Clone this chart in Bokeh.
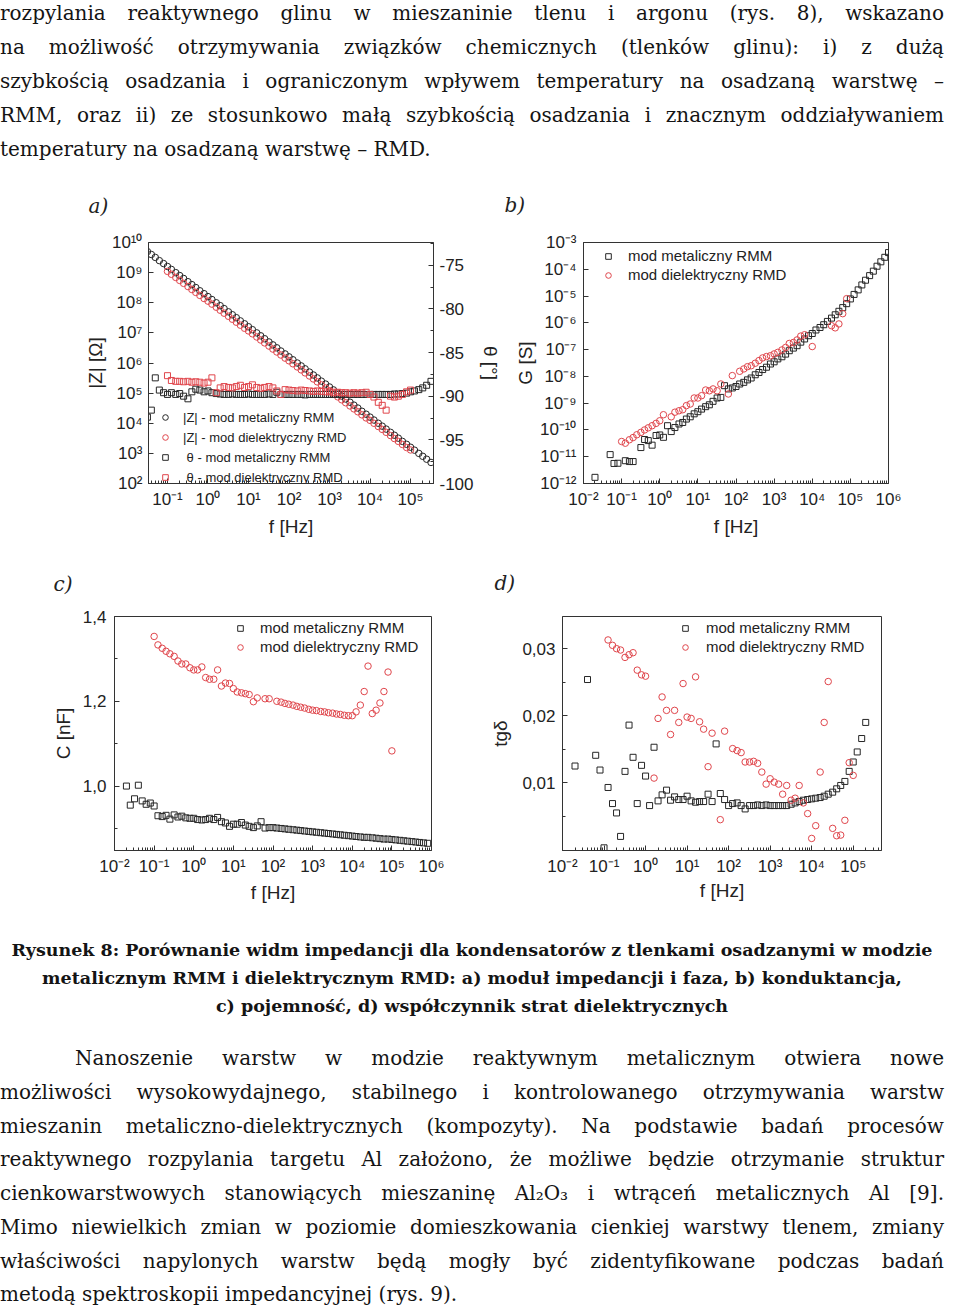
from bokeh.plotting import figure
from bokeh.models import (Range1d, LinearAxis, LinearScale, FixedTicker, CustomJSTickFormatter,
                          Div, Legend, LegendItem)
from bokeh.layouts import column, row
from bokeh.embed import file_html
from bokeh.resources import INLINE

# ---------------------------------------------------------------- data
# measurement frequency grid [Hz]
FREQ = [0.02, 0.025, 0.032, 0.04, 0.05, 0.063, 0.08,
        0.1, 0.125, 0.16, 0.2, 0.25, 0.32, 0.4, 0.5, 0.63, 0.8,
        1.0, 1.25, 1.6, 2.0, 2.5, 3.2, 4.0, 5.0, 6.3, 8.0,
        10, 12.5, 16, 20, 25, 32, 40, 50, 63, 80,
        100, 125, 160, 200, 250, 320, 400, 500, 630, 800,
        1e3, 1.25e3, 1.6e3, 2e3, 2.5e3, 3.2e3, 4e3, 5e3, 6.3e3, 8e3,
        1e4, 1.25e4, 1.6e4, 2e4, 2.5e4, 3.2e4, 4e4, 5e4, 6.3e4, 8e4,
        1e5, 1.25e5, 1.6e5, 2e5, 2.5e5, 3.2e5, 4e5, 5e5, 6.3e5, 8e5,
        1e6]

# a) |Z| and phase
ZMOD_RMM_IDX = list(range(2, 73))
ZMOD_RMM = [5.0e9, 4.0e9, 3.2e9, 2.5e9, 2.0e9,
            1.6e9, 1.28e9, 1.0e9, 8.0e8, 6.4e8, 5.0e8, 4.0e8, 3.2e8, 2.5e8, 2.0e8,
            1.6e8, 1.28e8, 1.0e8, 8.0e7, 6.4e7, 5.0e7, 4.0e7, 3.2e7, 2.5e7, 2.0e7,
            1.6e7, 1.28e7, 1.0e7, 8.0e6, 6.4e6, 5.0e6, 4.0e6, 3.2e6, 2.5e6, 2.0e6,
            1.6e6, 1.28e6, 1.0e6, 8.0e5, 6.4e5, 5.0e5, 4.0e5, 3.2e5, 2.5e5, 2.0e5,
            1.6e5, 1.28e5, 1.0e5, 8.0e4, 6.4e4, 5.0e4, 4.0e4, 3.2e4, 2.5e4, 2.0e4,
            1.6e4, 1.28e4, 1.0e4, 8.0e3, 6.4e3, 5.0e3, 4.0e3, 3.2e3, 2.5e3, 2.0e3,
            1.6e3, 1.28e3, 1.0e3, 8.0e2, 6.4e2, 5.0e2]
ZMOD_RMD_IDX = list(range(7, 68))
ZMOD_RMD = [1.1e9, 8.8e8, 6.9e8, 5.5e8, 4.4e8, 3.45e8, 2.75e8, 2.2e8, 1.75e8, 1.38e8,
            1.13e8, 9.0e7, 7.1e7, 5.65e7, 4.5e7, 3.55e7, 2.83e7, 2.26e7, 1.8e7, 1.42e7,
            1.16e7, 9.3e6, 7.3e6, 5.8e6, 4.65e6, 3.65e6, 2.9e6, 2.32e6, 1.84e6, 1.45e6,
            1.18e6, 9.4e5, 7.4e5, 5.9e5, 4.7e5, 3.7e5, 2.95e5, 2.36e5, 1.87e5, 1.48e5,
            1.2e5, 9.6e4, 7.5e4, 6.0e4, 4.8e4, 3.75e4, 3.0e4, 2.4e4, 1.9e4, 1.5e4,
            1.25e4, 1.0e4, 7.8e3, 6.25e3, 5.0e3, 3.9e3, 3.1e3, 2.5e3, 1.98e3, 1.56e3,
            1.3e3]
THETA_RMM_IDX = list(range(2, 73))
THETA_RMM = [-92.4, -91.6, -87.9, -89.3, -89.6, -89.8, -89.6, -89.8, -89.7, -90.0,
             -90.3, -89.5, -89.2, -89.3, -89.5, -89.4, -89.6, -89.7,
             -89.75, -89.8, -89.8, -89.75, -89.8, -89.8, -89.8, -89.75, -89.8, -89.8,
             -89.8, -89.8, -89.75, -89.8, -89.55, -89.8, -89.8, -89.8, -89.8, -89.8,
             -89.8, -89.85, -89.8, -89.8, -89.8, -89.8, -89.8, -89.8, -89.8, -89.8,
             -89.8, -89.8, -89.8, -89.8, -89.8, -89.8, -89.8, -89.8, -89.8, -89.8,
             -89.8, -89.8, -89.8, -89.75, -89.75, -89.7, -89.65, -89.5, -89.4, -89.25,
             -89.05, -88.75, -88.3]
THETA_RMD_IDX = list(range(7, 68))
THETA_RMD = [-87.65, -88.2, -88.3, -88.3, -88.35, -88.3, -88.4, -88.35, -88.4, -88.5,
             -88.4, -87.9, -89.6, -89.05, -88.9, -89.0, -89.05, -88.9, -88.75, -89.0,
             -88.9, -88.7, -89.0, -89.1, -89.0, -88.9, -89.05, -89.4, -89.8, -89.25,
             -89.3, -89.35, -89.4, -89.3, -89.35, -89.4, -89.45, -89.4, -89.45, -89.5,
             -89.5, -89.55, -89.55, -89.6, -89.6, -89.65, -89.6, -89.65, -89.6, -89.55,
             -89.8, -90.1, -90.7, -91.05, -91.6, -90.0, -90.1, -90.0, -89.8, -89.5,
             -89.3]

# b) conductance G [S]
G_RMM_IDX = [0, 4, 5, 6, 8, 9, 10] + list(range(12, 78))
G_RMM = [1.7e-12, 1.2e-11, 5.6e-12, 5.7e-12, 7.1e-12, 6.6e-12, 6.6e-12,
         2.2e-11, 4.4e-11, 4.0e-11, 2.7e-11, 6.2e-11, 6.5e-11, 5.3e-11, 1.44e-10, 8.7e-11, 1.23e-10,
         1.67e-10, 1.9e-10, 2.55e-10, 3.1e-10, 4.0e-10, 4.8e-10, 6.0e-10, 7.4e-10, 8.7e-10, 1.17e-9,
         1.56e-9, 1.64e-9, 4.5e-9, 3.4e-9, 3.7e-9, 4.2e-9, 5.2e-9, 6.0e-9, 7.4e-9, 8.7e-9,
         1.15e-8, 1.4e-8, 1.8e-8, 2.2e-8, 2.9e-8, 3.5e-8, 4.5e-8, 5.4e-8, 6.8e-8, 9.1e-8,
         1.14e-7, 1.4e-7, 1.9e-7, 2.5e-7, 3.3e-7, 4.0e-7, 5.4e-7, 6.7e-7, 8.5e-7, 1.13e-6,
         1.5e-6, 2.0e-6, 2.7e-6, 3.7e-6, 5.2e-6, 7.8e-6, 1.15e-5, 1.7e-5, 2.6e-5, 3.9e-5,
         5.8e-5, 8.5e-5, 1.3e-4, 1.9e-4, 2.8e-4, 4.2e-4]
G_RMD_IDX = (list(range(7, 19)) + list(range(20, 34)) + [35, 36]
             + list(range(38, 56)) + [57] + list(range(62, 67)))
G_RMD = [3.7e-11, 3.2e-11, 4.3e-11, 5.2e-11, 6.6e-11, 8.1e-11, 1.0e-10, 1.2e-10, 1.44e-10,
         1.76e-10, 2.2e-10, 3.7e-10,
         3.1e-10, 4.6e-10, 5.2e-10, 5.7e-10, 8.1e-10, 9.3e-10, 1.56e-9, 1.56e-9, 1.9e-9, 3.1e-9,
         2.9e-9, 3.4e-9, 2.9e-9, 5.2e-9,
         2.2e-9, 1.07e-8,
         1.55e-8, 1.9e-8, 2.3e-8, 2.5e-8, 3.1e-8, 3.9e-8, 4.9e-8, 5.5e-8, 5.9e-8, 6.9e-8,
         7.9e-8, 9.7e-8, 1.2e-7, 1.7e-7, 1.85e-7, 2.3e-7, 3.2e-7, 3.6e-7,
         1.3e-7,
         7.8e-7, 6.5e-7, 9.1e-7, 2.2e-6, 8.0e-6]

# c) capacitance C [nF]
C_RMM_IDX = list(range(0, 77))
C_RMM = [1.000, 0.955, 0.970, 1.002, 0.965, 0.957, 0.960, 0.953, 0.930, 0.928,
         0.931, 0.922, 0.932, 0.927, 0.929, 0.925, 0.924,
         0.924, 0.921, 0.920, 0.921, 0.924, 0.921, 0.926, 0.916, 0.913, 0.905,
         0.910, 0.910, 0.914, 0.908, 0.905, 0.902, 0.906, 0.916, 0.901, 0.902, 0.902,
         0.901, 0.900, 0.899, 0.898, 0.897, 0.896, 0.895, 0.894, 0.893, 0.892,
         0.891, 0.890, 0.889, 0.888, 0.887, 0.886, 0.885, 0.884, 0.883, 0.882,
         0.881, 0.880, 0.879, 0.879, 0.878, 0.877, 0.876, 0.875, 0.875, 0.874,
         0.873, 0.872, 0.871, 0.870, 0.869, 0.868, 0.867, 0.866, 0.865]
C_RMD_IDX = list(range(7, 34)) + [35, 36] + list(range(38, 68))
C_RMD = [1.353, 1.333, 1.325, 1.318, 1.312, 1.306, 1.295, 1.288, 1.288, 1.279,
         1.274, 1.274, 1.281, 1.256, 1.252, 1.252, 1.274, 1.236, 1.243, 1.242,
         1.230, 1.222, 1.220, 1.218, 1.216, 1.199, 1.208,
         1.206, 1.206,
         1.200, 1.198, 1.195, 1.193, 1.191, 1.188, 1.186, 1.184, 1.181, 1.179,
         1.178, 1.176, 1.175, 1.173, 1.172, 1.170, 1.169, 1.167, 1.166, 1.166,
         1.175, 1.191, 1.223, 1.283, 1.171, 1.179, 1.196, 1.223, 1.269, 1.083]

# d) loss tangent tg(delta)
TG_RMM_IDX = [0, 3] + list(range(5, 71))
TG_RMM = [0.0125, 0.0254,
          0.0141, 0.0119, 0.0003, 0.0093, 0.0069, 0.0055, 0.0020, 0.0117, 0.0186, 0.0138,
          0.0069, 0.0126, 0.0110, 0.0066, 0.0153, 0.0073, 0.0082, 0.0089, 0.0074, 0.0079,
          0.0075, 0.0075, 0.0080, 0.0073, 0.0071, 0.0072, 0.0072, 0.0083, 0.0072, 0.0158,
          0.0084, 0.0075, 0.0066, 0.0069, 0.0070, 0.0066, 0.0061, 0.0066, 0.0066, 0.0067,
          0.0066, 0.0067, 0.0066, 0.0066, 0.0066, 0.0066, 0.0066, 0.0068, 0.0070, 0.0072,
          0.0074, 0.0075, 0.0076, 0.0077, 0.0078, 0.0080, 0.0083, 0.0086, 0.0091, 0.0096,
          0.0102, 0.0117, 0.0131, 0.0146, 0.0166, 0.0190]
TG_RMD_IDX = list(range(8, 18)) + list(range(19, 34)) + [35, 36] + list(range(38, 68))
TG_RMD = [0.0313, 0.0305, 0.0300, 0.0298, 0.0287, 0.0291, 0.0294, 0.0268, 0.0261, 0.0259,
          0.0107, 0.0196, 0.0228, 0.0208, 0.0172, 0.0208, 0.0190, 0.0248, 0.0198, 0.0196,
          0.0258, 0.0191, 0.0180, 0.0124, 0.0174,
          0.0045, 0.0177,
          0.0151, 0.0148, 0.0145, 0.0131, 0.0131, 0.0132, 0.0129, 0.0116, 0.0098, 0.0106,
          0.0101, 0.0098, 0.0083, 0.0096, 0.0074, 0.0077, 0.0096, 0.0070, 0.0054, 0.0017,
          0.0036, 0.0116, 0.0190, 0.0251, 0.0032, 0.0021, 0.0022, 0.0044, 0.0130, 0.0111]

# ticks
XT_A = [1e-1, 1e0, 1e1, 1e2, 1e3, 1e4, 1e5]
XT_BC = [1e-2, 1e-1, 1e0, 1e1, 1e2, 1e3, 1e4, 1e5, 1e6]
XT_D = [1e-2, 1e-1, 1e0, 1e1, 1e2, 1e3, 1e4, 1e5]
YT_A = [1e2, 1e3, 1e4, 1e5, 1e6, 1e7, 1e8, 1e9, 1e10]
YT_B = [1e-12, 1e-11, 1e-10, 1e-9, 1e-8, 1e-7, 1e-6, 1e-5, 1e-4, 1e-3]
THETA_TICKS = [-100, -95, -90, -85, -80, -75]
THETA_MINOR = [-97.5, -92.5, -87.5, -82.5, -77.5, -72.5]
YT_C = [1.0, 1.2, 1.4]
YT_C_MINOR = [0.9, 1.1, 1.3]
YT_D = [0.01, 0.02, 0.03]
YT_D_MINOR = [0.005, 0.015, 0.025]
MINOR_LOG = [m * 10.0 ** k for k in range(-3, 7) for m in range(2, 10)]

LEG_RMM = "mod metaliczny RMM"
LEG_RMD = "mod dielektryczny RMD"

# ---------------------------------------------------------------- style
BLACK = "#262626"
RED = "#e0464c"
AX = "#333333"
SANS = "Liberation Sans"
SERIF = "DejaVu Serif"

SUP_JS = """
const sup = {"-": "\\u207b", "0": "\\u2070", "1": "\\u00b9", "2": "\\u00b2", "3": "\\u00b3",
             "4": "\\u2074", "5": "\\u2075", "6": "\\u2076", "7": "\\u2077", "8": "\\u2078", "9": "\\u2079"};
const e = Math.round(Math.log10(tick));
return "10" + String(e).split("").map(c => sup[c]).join("");
"""


def log_fmt():
    return CustomJSTickFormatter(code=SUP_JS)


def dec_fmt(n):
    return CustomJSTickFormatter(code="return tick.toFixed(%d).replace('.', ',');" % n)


def style_axis(ax, label_standoff=6, axis_standoff=3):
    ax.axis_line_color = AX
    ax.major_tick_in = 5
    ax.major_tick_out = 0
    ax.minor_tick_in = 3
    ax.minor_tick_out = 0
    ax.major_tick_line_color = AX
    ax.minor_tick_line_color = AX
    ax.major_label_text_font = SANS
    ax.major_label_text_font_size = "17px"
    ax.major_label_text_color = "#222222"
    ax.major_label_standoff = label_standoff
    ax.axis_label_text_font = SANS
    ax.axis_label_text_font_size = "19px"
    ax.axis_label_text_font_style = "normal"
    ax.axis_label_text_color = "#222222"
    ax.axis_label_standoff = axis_standoff


def make_fig(width, height, xr, yr, ylog, bl, br, bt, bb, title, toff, tstand):
    p = figure(width=width, height=height, x_axis_type="log",
               y_axis_type="log" if ylog else "linear",
               x_range=Range1d(*xr), y_range=Range1d(*yr),
               output_backend="svg", toolbar_location=None,
               min_border_left=bl, min_border_right=br,
               min_border_top=bt, min_border_bottom=bb, title=title)
    p.grid.visible = False
    p.outline_line_color = AX
    p.outline_line_width = 1
    p.background_fill_color = "white"
    p.border_fill_color = None
    p.title.text_font = SERIF
    p.title.text_font_style = "italic"
    p.title.text_font_size = "20px"
    p.title.text_color = "#222222"
    p.title.align = "left"
    p.title.offset = toff
    p.title.standoff = tstand
    return p


def pts(p, idx, ys, marker, color, size, **kw):
    xs = [FREQ[i] for i in idx]
    return p.scatter(xs, ys, marker=marker, size=size, line_color=color,
                     fill_color=None, line_width=1, **kw)


def add_legend(p, items, loc, font_size, standoff, item_h, spacing):
    leg = Legend(items=[LegendItem(label=l, renderers=[r]) for l, r in items],
                 location=loc)
    leg.border_line_alpha = 0
    leg.background_fill_alpha = 0
    leg.padding = 0
    leg.margin = 0
    leg.spacing = spacing
    leg.glyph_width = 14
    leg.glyph_height = item_h
    leg.label_height = item_h
    leg.label_standoff = standoff
    leg.label_text_font = SANS
    leg.label_text_font_size = font_size
    leg.label_text_color = "#222222"
    p.add_layout(leg)


# ---------------------------------------------------------------- panel a
pa = make_fig(503, 382, (0.034, 3.69e5), (1e2, 1e10), True, 148, 69, 76, 63, "a)", -60, 50)
pa.extra_y_ranges = {"theta": Range1d(-100, -72.4)}
pa.extra_y_scales = {"theta": LinearScale()}
pa.xaxis[0].ticker = FixedTicker(ticks=XT_A, minor_ticks=MINOR_LOG)
pa.xaxis[0].formatter = log_fmt()
pa.xaxis[0].axis_label = "f [Hz]"
pa.yaxis[0].ticker = FixedTicker(ticks=YT_A, minor_ticks=[])
pa.yaxis[0].formatter = log_fmt()
pa.yaxis[0].axis_label = "|Z| [\u03a9]"
ra = LinearAxis(y_range_name="theta", axis_label="\u03b8 [\u00b0]",
                ticker=FixedTicker(ticks=THETA_TICKS, minor_ticks=THETA_MINOR),
                formatter=CustomJSTickFormatter(code="return tick.toFixed(0);"))
pa.add_layout(ra, "right")
style_axis(pa.xaxis[0], 6, 4)
style_axis(pa.yaxis[0], 6, 3)
style_axis(ra, 6, 3)
a1 = pts(pa, ZMOD_RMM_IDX, ZMOD_RMM, "circle", BLACK, 6.5)
a2 = pts(pa, ZMOD_RMD_IDX, ZMOD_RMD, "circle", RED, 6.5)
a3 = pts(pa, THETA_RMM_IDX, THETA_RMM, "square", BLACK, 6, y_range_name="theta")
a4 = pts(pa, THETA_RMD_IDX, THETA_RMD, "square", RED, 6, y_range_name="theta")
add_legend(pa, [("|Z| - " + LEG_RMM, a1), ("|Z| - " + LEG_RMD, a2),
                (" \u03b8 - " + LEG_RMM, a3), (" \u03b8 - " + LEG_RMD, a4)],
           (10, -2), "13px", 11, 16, 4)

# ---------------------------------------------------------------- panel b
pb = make_fig(441, 382, (1e-2, 1e6), (1e-12, 1e-3), True, 80, 56, 78, 63, "b)", -79, 52)
pb.xaxis[0].ticker = FixedTicker(ticks=XT_BC, minor_ticks=MINOR_LOG)
pb.xaxis[0].formatter = log_fmt()
pb.xaxis[0].axis_label = "f [Hz]"
pb.yaxis[0].ticker = FixedTicker(ticks=YT_B, minor_ticks=[])
pb.yaxis[0].formatter = log_fmt()
pb.yaxis[0].axis_label = "G [S]"
style_axis(pb.xaxis[0], 6, 4)
style_axis(pb.yaxis[0], 7, 1)
b1 = pts(pb, G_RMM_IDX, G_RMM, "square", BLACK, 6)
b2 = pts(pb, G_RMD_IDX, G_RMD, "circle", RED, 6.5)
add_legend(pb, [(LEG_RMM, b1), (LEG_RMD, b2)], (18, 200), "15px", 13, 16, 2)

# ---------------------------------------------------------------- panel c
pc = make_fig(482, 364, (1e-2, 1e6), (0.848, 1.4), False, 114, 51, 68, 60, "c)", -61, 42)
pc.xaxis[0].ticker = FixedTicker(ticks=XT_BC, minor_ticks=MINOR_LOG)
pc.xaxis[0].formatter = log_fmt()
pc.xaxis[0].axis_label = "f [Hz]"
pc.yaxis[0].ticker = FixedTicker(ticks=YT_C, minor_ticks=YT_C_MINOR)
pc.yaxis[0].formatter = dec_fmt(1)
pc.yaxis[0].axis_label = "C [nF]"
style_axis(pc.xaxis[0], 6, 3)
style_axis(pc.yaxis[0], 8, 6)
c1 = pts(pc, C_RMM_IDX, C_RMM, "square", BLACK, 6)
c2 = pts(pc, C_RMD_IDX, C_RMD, "circle", RED, 6.5)
add_legend(pc, [(LEG_RMM, c1), (LEG_RMD, c2)], (119, 195), "15px", 13, 16, 2)

# ---------------------------------------------------------------- panel d
pdd = make_fig(462, 364, (1e-2, 4.8e5), (-0.0001, 0.0348), False, 80, 63, 70, 60, "d)", -68, 44)
pdd.xaxis[0].ticker = FixedTicker(ticks=XT_D, minor_ticks=MINOR_LOG)
pdd.xaxis[0].formatter = log_fmt()
pdd.xaxis[0].axis_label = "f [Hz]"
pdd.yaxis[0].ticker = FixedTicker(ticks=YT_D, minor_ticks=YT_D_MINOR)
pdd.yaxis[0].formatter = dec_fmt(2)
pdd.yaxis[0].axis_label = "tg\u03b4"
style_axis(pdd.xaxis[0], 6, 1)
style_axis(pdd.yaxis[0], 7, 8)
d1 = pts(pdd, TG_RMM_IDX, TG_RMM, "square", BLACK, 6)
d2 = pts(pdd, TG_RMD_IDX, TG_RMD, "circle", RED, 6.5)
add_legend(pdd, [(LEG_RMM, d1), (LEG_RMD, d2)], (116, 195), "15px", 14, 16, 2)

# ---------------------------------------------------------------- text
JL = "text-align:justify;text-align-last:justify"
top_lines = [
    "rozpylania reaktywnego glinu w mieszaninie tlenu i argonu (rys. 8), wskazano",
    "na możliwość otrzymywania związków chemicznych (tlenków glinu): i) z dużą",
    "szybkością osadzania i ograniczonym wpływem temperatury na osadzaną warstwę –",
    "RMM, oraz ii) ze stosunkowo małą szybkością osadzania i znacznym oddziaływaniem",
]
top_html = ('<div style="font-family:\'DejaVu Serif\';font-size:20px;line-height:34px;'
            'color:#141414;width:944px;margin-top:-4px">'
            + "".join('<div style="%s">%s</div>' % (JL, t) for t in top_lines)
            + '<div>temperatury na osadzaną warstwę – RMD.</div></div>')
top_div = Div(text=top_html, width=944, height=164, margin=0)

cap_lines = [
    "Rysunek 8: Porównanie widm impedancji dla kondensatorów z tlenkami osadzanymi w modzie",
    "metalicznym RMM i dielektrycznym RMD: a) moduł impedancji i faza, b) konduktancja,",
    "c) pojemność, d) współczynnik strat dielektrycznych",
]
cap_html = ('<div style="font-family:\'DejaVu Serif\';font-weight:bold;font-size:17.5px;'
            'line-height:28px;color:#141414;width:944px;text-align:center;padding-top:26px">'
            + "".join("<div>%s</div>" % t for t in cap_lines) + "</div>")
cap_div = Div(text=cap_html, width=944, height=132, margin=0)

bot_lines = [
    "możliwości wysokowydajnego, stabilnego i kontrolowanego otrzymywania warstw",
    "mieszanin metaliczno-dielektrycznych (kompozyty). Na podstawie badań procesów",
    "reaktywnego rozpylania targetu Al założono, że możliwe będzie otrzymanie struktur",
    "cienkowarstwowych stanowiących mieszaninę Al₂O₃ i wtrąceń metalicznych Al [9].",
    "Mimo niewielkich zmian w poziomie domieszkowania cienkiej warstwy tlenem, zmiany",
    "właściwości napylonych warstw będą mogły być zidentyfikowane podczas badań",
]
bot_html = ('<div style="font-family:\'DejaVu Serif\';font-size:20px;line-height:33.75px;'
            'color:#141414;width:944px">'
            '<div style="%s;padding-left:75px">Nanoszenie warstw w modzie reaktywnym '
            'metalicznym otwiera nowe</div>' % JL
            + "".join('<div style="%s">%s</div>' % (JL, t) for t in bot_lines)
            + "<div>metodą spektroskopii impedancyjnej (rys. 9).</div></div>")
bot_div = Div(text=bot_html, width=944, height=270, margin=0)

layout = column(top_div,
                row(pa, pb, spacing=0),
                row(pc, pdd, spacing=0),
                cap_div, bot_div, spacing=0)

open("out.html", "w").write(file_html(layout, INLINE))
